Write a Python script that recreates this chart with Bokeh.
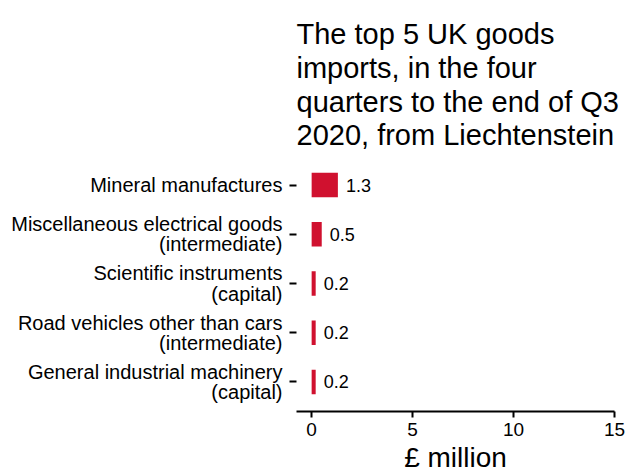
from bokeh.plotting import figure
from bokeh.models import ColumnDataSource, Range1d, FactorRange, FixedTicker, Title
from bokeh.embed import file_html
from bokeh.resources import INLINE
from bokeh.core.properties import value

categories = [
    "Mineral manufactures",
    "Miscellaneous electrical goods\n(intermediate)",
    "Scientific instruments\n(capital)",
    "Road vehicles other than cars\n(intermediate)",
    "General industrial machinery\n(capital)",
]
values = [1.3, 0.5, 0.2, 0.2, 0.2]
value_labels = ["1.3", "0.5", "0.2", "0.2", "0.2"]
x_ticks = [0, 5, 10, 15]
title_lines = [
    "The top 5 UK goods",
    "imports, in the four",
    "quarters to the end of Q3",
    "2020, from Liechtenstein",
]
axis_title = "£ million"

FONT = "Liberation Sans"
BAR = "#d0112f"

src = ColumnDataSource(dict(cat=categories, val=values, lab=value_labels))

p = figure(
    width=628, height=475,
    y_range=FactorRange(factors=categories[::-1], range_padding=0.1, range_padding_units="absolute"),
    x_range=Range1d(-0.75, 15),
    output_backend="svg", toolbar_location=None,
    min_border_left=296, min_border_right=14, min_border_top=155,
)

p.hbar(y="cat", right="val", left=0, height=0.5, source=src, color=BAR, line_color=None)
p.text(x="val", y="cat", text="lab", source=src, x_offset=8, text_align="left",
       text_baseline="middle", text_font=value(FONT), text_font_size="18px", text_color="#000000")

p.add_layout(Title(text="\n".join(title_lines), align="left", text_font=FONT, text_font_size="29px",
                   text_font_style="normal", text_color="#000000", text_line_height=1.055,
                   standoff=8, offset=0), "above")

p.xgrid.visible = False
p.ygrid.visible = False
p.outline_line_color = None

xa = p.xaxis[0]
xa.ticker = FixedTicker(ticks=x_ticks)
xa.axis_label = axis_title
xa.axis_label_text_font = FONT
xa.axis_label_text_font_size = "28px"
xa.axis_label_text_font_style = "normal"
xa.axis_label_text_color = "#000000"
xa.axis_label_standoff = 3
xa.major_label_text_font = FONT
xa.major_label_text_font_size = "19px"
xa.major_label_text_color = "#000000"
xa.major_label_standoff = 5
xa.axis_line_width = 2
xa.axis_line_color = "#000000"
xa.major_tick_line_width = 2
xa.major_tick_line_color = "#000000"
xa.major_tick_out = 6
xa.major_tick_in = 0
xa.minor_tick_line_color = None

ya = p.yaxis[0]
ya.axis_line_color = None
ya.major_label_text_font = FONT
ya.major_label_text_font_size = "20px"
ya.major_label_text_color = "#000000"
ya.major_label_text_line_height = 0.92
ya.major_label_standoff = 7
ya.major_tick_line_width = 2
ya.major_tick_line_color = "#000000"
ya.major_tick_out = 7
ya.major_tick_in = 0
ya.minor_tick_line_color = None

open("out.html", "w").write(file_html(p, INLINE))
